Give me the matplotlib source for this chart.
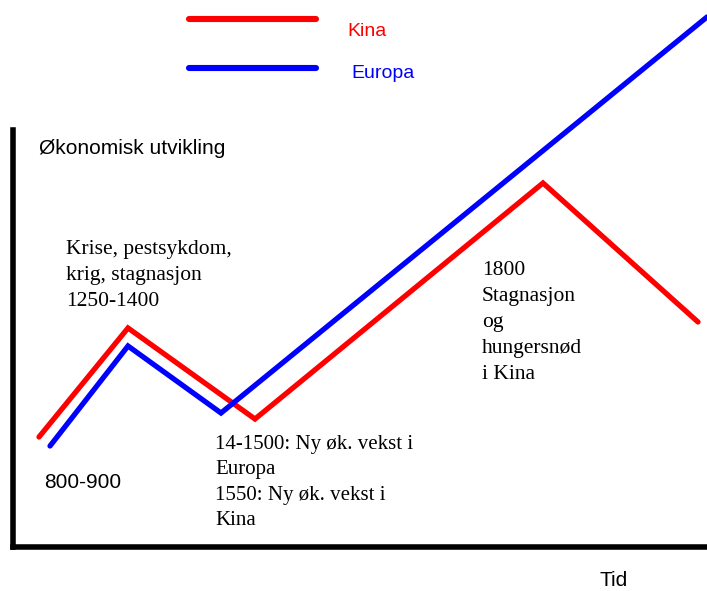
import matplotlib.pyplot as plt
from matplotlib.lines import Line2D

# schematic data: x = time position, y = economic level (arbitrary units)
KINA_X = [26, 115, 242, 530, 685]
KINA_Y = [110, 219, 128, 364, 225]
EUROPA_X = [37, 115, 208, 694]
EUROPA_Y = [101, 201, 134, 530]

SERIES = [("Kina", KINA_X, KINA_Y, "#ff0000"), ("Europa", EUROPA_X, EUROPA_Y, "#0000ff")]

W, H = 707, 591
SANS = ["Liberation Sans", "DejaVu Sans"]
SERIF = ["Liberation Serif", "DejaVu Serif"]


def px(x, y):
    return x / W, 1 - y / H


fig = plt.figure(figsize=(W / 100, H / 100), dpi=100)
fig.patch.set_facecolor("white")

left, bottom = px(13, 547)
_, top = px(13, 130)
ax = fig.add_axes([left, bottom, 1 - left, top - bottom])
ax.set_xlim(0, 694)
ax.set_ylim(0, 417)
ax.set_xticks([])
ax.set_yticks([])
for s in ["top", "right"]:
    ax.spines[s].set_visible(False)
for s in ["left", "bottom"]:
    ax.spines[s].set_linewidth(4.0)
    ax.spines[s].set_color("black")
    ax.spines[s].set_capstyle("projecting")

for name, xs, ys, color in SERIES:
    ax.plot(xs, ys, color=color, lw=3.8, solid_capstyle="round", solid_joinstyle="miter", clip_on=False)

# legend drawn by hand
legend_pos = {"Kina": (19, 347, 32), "Europa": (68, 351, 73)}
for name, _, _, color in SERIES:
    ly, tx, ty = legend_pos[name]
    x0, y0 = px(189, ly)
    x1, _ = px(316, ly)
    fig.add_artist(Line2D([x0, x1], [y0, y0], color=color, lw=4.4, solid_capstyle="round"))
    fig.text(*px(tx, ty), name, color=color, ha="left", va="center", fontsize=14, family=SANS)

fig.text(*px(39, 149), "Økonomisk utvikling", ha="left", va="center", fontsize=15, family=SANS)
fig.text(*px(44, 482), "800-900", ha="left", va="center", fontsize=15, family=SANS)
fig.text(*px(599, 581), "Tid", ha="left", va="center", fontsize=15, family=SANS)

fig.text(*px(66, 240), "Krise, pestsykdom,\nkrig, stagnasjon\n1250-1400",
         ha="left", va="top", fontsize=15.5, family=SERIF, linespacing=1.5)
fig.text(*px(215, 435), "14-1500: Ny øk. vekst i\nEuropa\n1550: Ny øk. vekst i\nKina",
         ha="left", va="top", fontsize=15, family=SERIF, linespacing=1.45)
fig.text(*px(482, 261), "1800\nStagnasjon\nog\nhungersnød\ni Kina",
         ha="left", va="top", fontsize=15.5, family=SERIF, linespacing=1.5)

fig.savefig("out.png", dpi=100)
